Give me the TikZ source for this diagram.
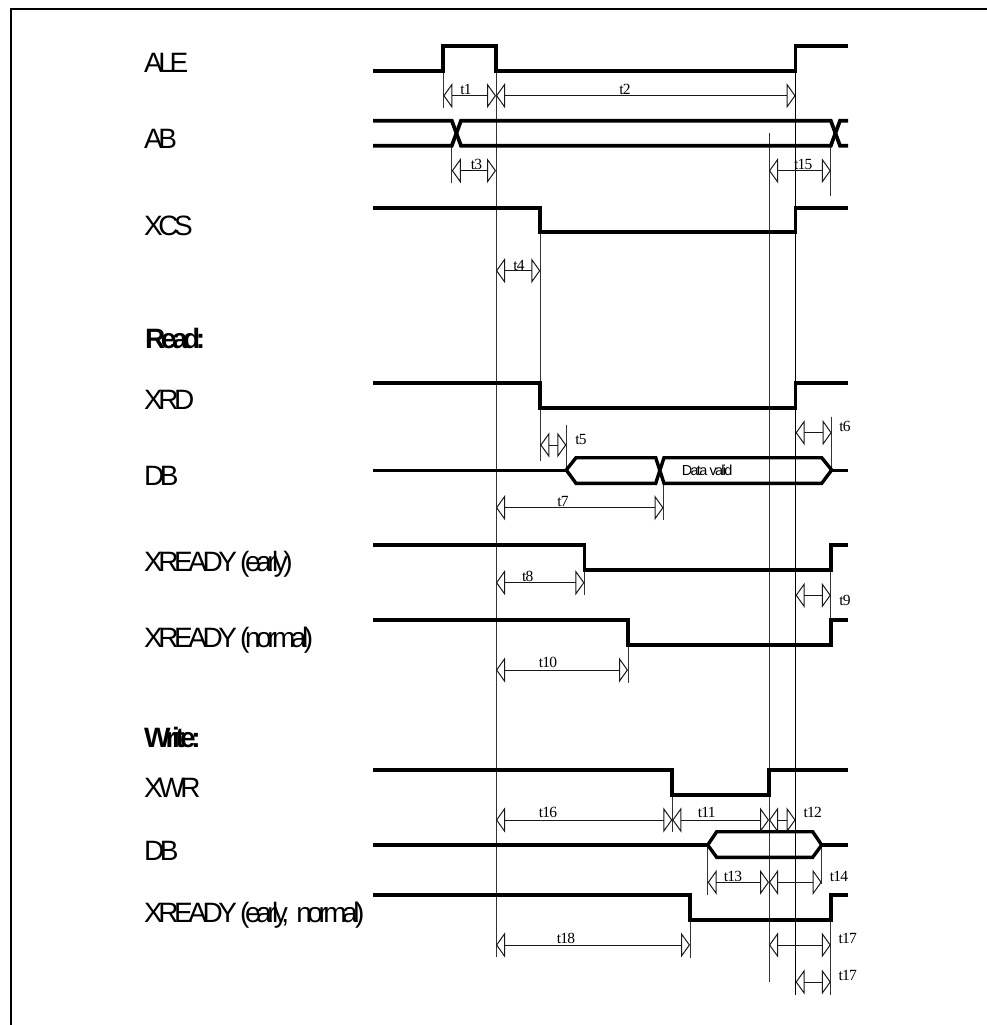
\documentclass[tikz,border=0pt]{standalone}
\usepackage{fontspec}
\setmainfont{Liberation Sans}
\newfontfamily\labfont[LetterSpace=-16]{Liberation Sans}
\newfontfamily\serfont[LetterSpace=-5]{Liberation Serif}
\newfontfamily\smallsans[LetterSpace=-12]{Liberation Sans}
\usetikzlibrary{arrows.meta}
\tikzset{
  x=1pt,y=-1pt,
  sig/.style={line width=3.7pt,line join=miter,line cap=butt},
  hexs/.style={line width=3.4pt,line join=miter},
  guide/.style={line width=1pt,black!80},
  frameline/.style={line width=2.4pt},
  dimline/.style={line width=1pt,black!90,
    {Triangle[open,length=9pt,width=25pt]}-{Triangle[open,length=9pt,width=25pt]}},
  siglabel/.style={anchor=base west,inner sep=0pt,font=\labfont\fontsize{28}{30}\selectfont},
  siglabelb/.style={anchor=base west,inner sep=0pt,font=\labfont\bfseries\fontsize{28}{30}\selectfont},
  tlabel/.style={anchor=base,inner sep=0pt,font=\serfont\fontsize{15.5}{17}\selectfont},
}
\newcommand{\dimar}[3]{\draw[dimline] (#1,#3) -- (#2,#3);}
\newcommand{\tlab}[4]{\node[tlabel] (#1) at (#2,#3) {#4};}
\begin{document}
\begin{tikzpicture}
\useasboundingbox (0,0) rectangle (987,1025);
% frame
\draw[frameline] (11,1025) -- (11,9) -- (987,9);
% long guides
\draw[guide] (496,71) -- (496,957);
\draw[guide] (540.3,232) -- (540.3,461);
\draw[guide] (769,133) -- (769,982);
\draw[line width=1pt] (795.6,71) -- (795.6,995);
% short guides
\draw[guide] (443.3,71) -- (443.3,108.3);
\draw[guide] (451.8,146) -- (451.8,183.3);
\draw[guide] (830.8,146) -- (830.8,196);
\draw[guide] (566.3,425) -- (566.3,470);
\draw[guide] (831.7,416.7) -- (831.7,470);
\draw[guide] (663.5,483) -- (663.5,520);
\draw[guide] (584.4,570) -- (584.4,595);
\draw[guide] (628,645) -- (628,683);
\draw[guide] (830.8,570) -- (830.8,645);
\draw[guide] (672.3,795) -- (672.3,832);
\draw[guide] (707.7,845) -- (707.7,895);
\draw[guide] (821.7,845) -- (821.7,884);
\draw[guide] (690,920) -- (690,957.5);
\draw[guide] (830.8,920) -- (830.8,994.5);
% signals
\draw[sig] (373,71) -| (443.3,45.7) -| (496,71) -| (795.6,45.7) -- (848,45.7);
\draw[sig] (373,120.7) -- (451.8,120.7) -- (461,145.7) -- (830.8,145.7) -- (840,120.7) -- (848,120.7);
\draw[sig] (373,145.7) -- (451.8,145.7) -- (461,120.7) -- (830.8,120.7) -- (840,145.7) -- (848,145.7);
\draw[sig] (373,208.3) -| (540.3,231.7) -| (795.6,208.3) -- (848,208.3);
\draw[sig] (373,383.3) -| (540.3,407.7) -| (795.6,383.3) -- (848,383.3);
\draw[line width=3pt] (373,470) -- (566.3,470);
\draw[hexs] (566.3,470) -- (576,457.7) -- (655.7,457.7) -- (664,483.3) -- (821.7,483.3) -- (831.7,470) -- (821.7,457.7) -- (664,457.7) -- (655.7,483.3) -- (576,483.3) -- cycle;
\draw[line width=3pt] (831.7,470) -- (848,470);
\draw[sig] (373,545) -| (584.4,570) -| (830.8,545) -- (848,545);
\draw[sig] (373,620) -| (628,645) -| (830.8,620) -- (848,620);
\draw[sig] (373,770) -| (672.3,794.7) -| (769,770) -- (848,770);
\draw[sig] (373,845) -- (707.7,845);
\draw[hexs] (707.7,845) -- (716.7,831.7) -- (812.7,831.7) -- (821.7,845) -- (812.7,857.3) -- (716.7,857.3) -- cycle;
\draw[sig] (821.7,845) -- (848,845);
\draw[sig] (373,895) -| (690,920) -| (830.8,895) -- (848,895);
% dimension arrows
\dimar{443.3}{496}{95.7}
\dimar{496}{795.6}{95.7}
\dimar{451.8}{496}{170.7}
\dimar{769}{830.8}{170.7}
\dimar{496}{540.3}{270.7}
\dimar{540.3}{566.3}{445}
\dimar{795.6}{831.7}{432.7}
\dimar{496}{663.5}{507.7}
\dimar{496}{584.4}{582.7}
\dimar{795.6}{830.8}{595.3}
\dimar{496}{628}{670}
\dimar{496}{672.3}{820}
\dimar{672.3}{769}{820}
\dimar{769}{795.6}{820}
\dimar{707.7}{769}{882.3}
\dimar{769}{821.7}{882.3}
\dimar{496}{690}{945}
\dimar{769}{830.8}{945}
\dimar{795.6}{830.8}{982}
% time labels
\tlab{t1}{466}{94}{t1}
\tlab{t2}{625}{94}{t2}
\tlab{t3}{473}{169}{\char`\_t3}
\tlab{t15}{803.3}{169}{t15}
\tlab{t4}{519}{270}{t4}
\tlab{t5}{581}{444}{t5}
\tlab{t6}{845}{431}{t6}
\tlab{t7}{563}{506}{t7}
\tlab{t8}{527.7}{581}{t8}
\tlab{t9}{845}{605.7}{t9}
\tlab{t10}{548}{667.7}{t10}
\tlab{t16}{548}{817.7}{t16}
\tlab{t11}{706.7}{817.7}{t11}
\tlab{t12}{812.7}{817.7}{t12}
\tlab{t13}{733}{881}{t13}
\tlab{t14}{839}{881}{t14}
\tlab{t18}{566}{943.3}{t18}
\tlab{t17a}{847.7}{943}{t17}
\tlab{t17b}{847.7}{980.7}{t17}
\node[anchor=base west,inner sep=0pt,font=\smallsans\fontsize{14.5}{16}\selectfont] (dv) at (681.7,475.7) {Data valid};
% signal names
\node[siglabel] (ale) at (144,72.7) {ALE};
\node[siglabel] (ab) at (144,148) {AB};
\node[siglabel] (xcs) at (144,235.5) {XCS};
\node[siglabelb] (read) at (145,348) {Read:};
\node[siglabel] (xrd) at (144,409) {XRD};
\node[siglabel] (db1) at (144,485) {DB};
\node[siglabel] (xe) at (144,571.5) {XREADY (early)};
\node[siglabel] (xn) at (144,647) {XREADY (normal)};
\node[siglabelb] (write) at (144,747) {Write:};
\node[siglabel] (xwr) at (144,797) {XWR};
\node[siglabel] (db2) at (144,860) {DB};
\node[siglabel] (xen) at (144,922.5) {XREADY (early,\hspace{4pt} normal)};
\end{tikzpicture}
\end{document}
